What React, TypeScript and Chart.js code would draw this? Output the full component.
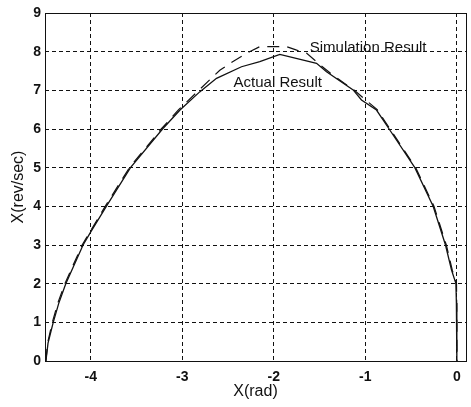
import { useEffect, useRef } from 'react';
import { Chart, registerables } from 'chart.js';

Chart.register(...registerables);

// Phase trajectory: position (rad) vs speed (rev/sec)
const actualX = [-4.49, -4.467, -4.41, -4.35, -4.273, -4.084, -4.0, -3.83, -3.566, -3.216, -3.025, -2.81, -2.626, -2.353, -2.153, -1.934, -1.533, -1.424, -1.133, -1.042, -0.878, -0.74, -0.459, -0.259, -0.124, -0.058, -0.01, -0.005, 0.0];
const actualY = [0, 0.46, 1.0, 1.49, 2.0, 3.0, 3.34, 4.0, 5.0, 6.0, 6.49, 6.96, 7.31, 7.61, 7.74, 7.93, 7.7, 7.48, 7.01, 6.75, 6.49, 6.0, 5.0, 4.0, 3.0, 2.35, 2.0, 1.5, 0];

const simX = [-4.49, -4.472, -4.42, -4.36, -4.283, -4.094, -3.842, -3.578, -3.23, -3.04, -2.82, -2.59, -2.45, -2.28, -2.153, -1.86, -1.75, -1.64, -1.49, -1.38, -1.12, -0.87, -0.73, -0.45, -0.25, -0.115, -0.05, -0.004, 0.0, 0.002];
const simY = [0, 0.46, 1.0, 1.5, 2.0, 3.0, 4.0, 5.0, 6.0, 6.5, 7.0, 7.52, 7.74, 7.98, 8.13, 8.13, 8.04, 7.96, 7.65, 7.44, 7.0, 6.5, 6.0, 5.0, 4.0, 3.0, 2.35, 2.0, 1.0, 0];

const xTicks = [-4, -3, -2, -1, 0];
const yTicks = [0, 1, 2, 3, 4, 5, 6, 7, 8, 9];

const xTitle = 'X(rad)';
const yTitle = 'X(rev/sec)';

const simLabel = 'Simulation Result';
const simLabelAt = { x: -1.607, y: 8.1 };
const actualLabel = 'Actual Result';
const actualLabelAt = { x: -2.44, y: 7.19 };

const FONT = 'Arial, "Liberation Sans", sans-serif';
const INK = '#111';

// Solid frame around the plot plus the in-plot curve labels
const framePlugin = {
  id: 'frameAndLabels',
  afterDraw(chart: any) {
    const { ctx, chartArea: a, scales } = chart;
    ctx.save();
    ctx.strokeStyle = INK;
    ctx.lineWidth = 1;
    ctx.setLineDash([]);
    ctx.strokeRect(Math.round(a.left) + 0.5, Math.round(a.top) + 0.5, Math.round(a.right - a.left), Math.round(a.bottom - a.top));
    ctx.fillStyle = INK;
    ctx.font = `15px ${FONT}`;
    ctx.textBaseline = 'middle';
    ctx.textAlign = 'left';
    ctx.fillText(simLabel, scales.x.getPixelForValue(simLabelAt.x), scales.y.getPixelForValue(simLabelAt.y));
    ctx.fillText(actualLabel, scales.x.getPixelForValue(actualLabelAt.x), scales.y.getPixelForValue(actualLabelAt.y));
    ctx.restore();
  },
};

export default function App() {
  const canvasRef = useRef<HTMLCanvasElement | null>(null);

  useEffect(() => {
    const canvas = canvasRef.current;
    if (!canvas) return;
    const chart = new Chart(canvas, {
      type: 'scatter',
      data: {
        datasets: [
          {
            label: actualLabel,
            data: actualX.map((x, i) => ({ x, y: actualY[i] })),
            showLine: true,
            borderColor: INK,
            borderWidth: 1.3,
            pointRadius: 0,
            tension: 0,
          },
          {
            label: simLabel,
            data: simX.map((x, i) => ({ x, y: simY[i] })),
            showLine: true,
            borderColor: INK,
            borderWidth: 1.2,
            borderDash: [12, 8],
            pointRadius: 0,
            tension: 0,
          },
        ],
      },
      options: {
        animation: false,
        responsive: false,
        devicePixelRatio: 1,
        layout: { padding: { left: 0, right: 5, top: 13, bottom: 0 } },
        plugins: { legend: { display: false }, tooltip: { enabled: false } },
        scales: {
          x: {
            type: 'linear',
            min: -4.5,
            max: 0.1,
            afterBuildTicks: (s: any) => {
              s.ticks = xTicks.map((v) => ({ value: v }));
            },
            afterFit: (s: any) => {
              s.height = 46;
            },
            grid: { color: INK, lineWidth: 1, drawTicks: false },
            border: { display: false, dash: [4, 3] },
            ticks: {
              color: INK,
              padding: 8,
              maxRotation: 0,
              font: { family: FONT, size: 14, weight: 'bold' },
              callback: (v: any) => String(v),
            },
            title: {
              display: true,
              text: xTitle,
              color: INK,
              font: { family: FONT, size: 16 },
              padding: { top: 0, bottom: 6 },
            },
          },
          y: {
            type: 'linear',
            min: 0,
            max: 9,
            afterBuildTicks: (s: any) => {
              s.ticks = yTicks.map((v) => ({ value: v }));
            },
            afterFit: (s: any) => {
              s.width = 45;
            },
            grid: { color: INK, lineWidth: 1, drawTicks: false },
            border: { display: false, dash: [4, 3] },
            ticks: {
              color: INK,
              padding: 4,
              font: { family: FONT, size: 14, weight: 'bold' },
              callback: (v: any) => String(v),
            },
            title: {
              display: true,
              text: yTitle,
              color: INK,
              font: { family: FONT, size: 16 },
              padding: { top: 9, bottom: 0 },
            },
          },
        },
      },
      plugins: [framePlugin],
    });
    return () => chart.destroy();
  }, []);

  return (
    <div style={{ position: 'absolute', left: 0, top: 0, width: 471, height: 407, background: '#fff' }}>
      <canvas ref={canvasRef} width={471} height={407} />
    </div>
  );
}
